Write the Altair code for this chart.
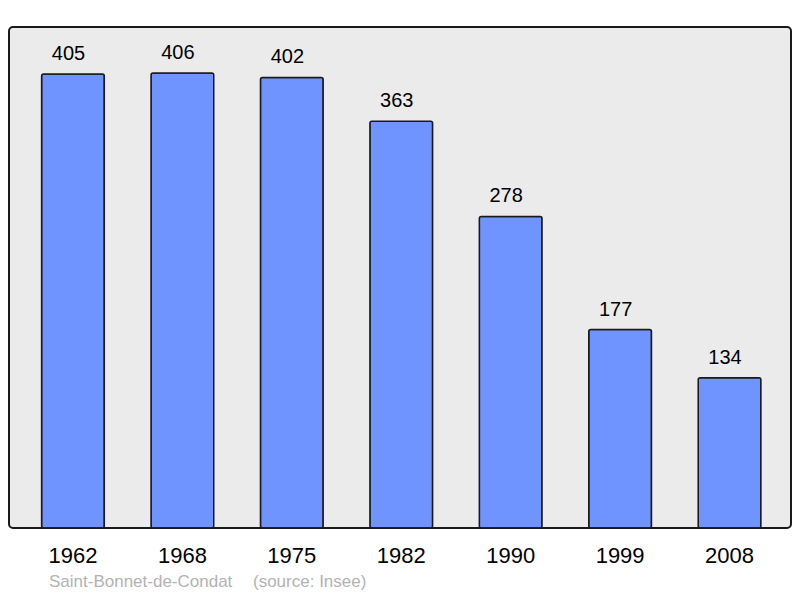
import altair as alt
import pandas as pd

years = ["1962", "1968", "1975", "1982", "1990", "1999", "2008"]
population = [405, 406, 402, 363, 278, 177, 134]
place = "Saint-Bonnet-de-Condat"
source = "(source: Insee)"

df = pd.DataFrame({"year": years, "pop": population})

x = alt.X("year:N", sort=years, title=None,
          scale=alt.Scale(paddingInner=0.427, paddingOuter=0.2865, align=0.52),
          axis=alt.Axis(labelAngle=0, domain=False, ticks=False, labelFontSize=22,
                        labelFont="Liberation Sans", labelColor="#000000",
                        labelPadding=17.5))
y = alt.Y("pop:Q", title=None, scale=alt.Scale(domain=[0, 447], nice=False, zero=True),
          axis=None)

base = alt.Chart(df)

bars = base.mark_bar(color="#7094ff", stroke="#1a1a1a", strokeWidth=1.5,
                     cornerRadius=2).encode(x=x, y=y)

labels = base.mark_text(fontSize=20, font="Liberation Sans", color="#000000",
                        baseline="alphabetic", dy=-14, dx=-4.5).encode(
    x=x, y=y, text="pop:Q")

cap1 = alt.Chart(pd.DataFrame({"t": [place]})).mark_text(
    fontSize=17, font="Liberation Sans", color="#b3b3b3", align="left",
    baseline="alphabetic").encode(x=alt.value(40), y=alt.value(559.5), text="t:N")
cap2 = alt.Chart(pd.DataFrame({"t": [source]})).mark_text(
    fontSize=17, font="Liberation Sans", color="#b3b3b3", align="left",
    baseline="alphabetic").encode(x=alt.value(244), y=alt.value(559.5), text="t:N")

chart = alt.layer(bars, labels, cap1, cap2).properties(
    width=782, height=501,
    background="#ffffff",
    autosize=alt.AutoSizeParams(type="none"),
    padding={"left": 1, "top": 19, "right": 1, "bottom": 62},
).configure_view(
    fill="#ebebeb", stroke="#1a1a1a", strokeWidth=2, cornerRadius=4
)

chart.save("out.html", embed_options={"renderer": "svg", "actions": False})
